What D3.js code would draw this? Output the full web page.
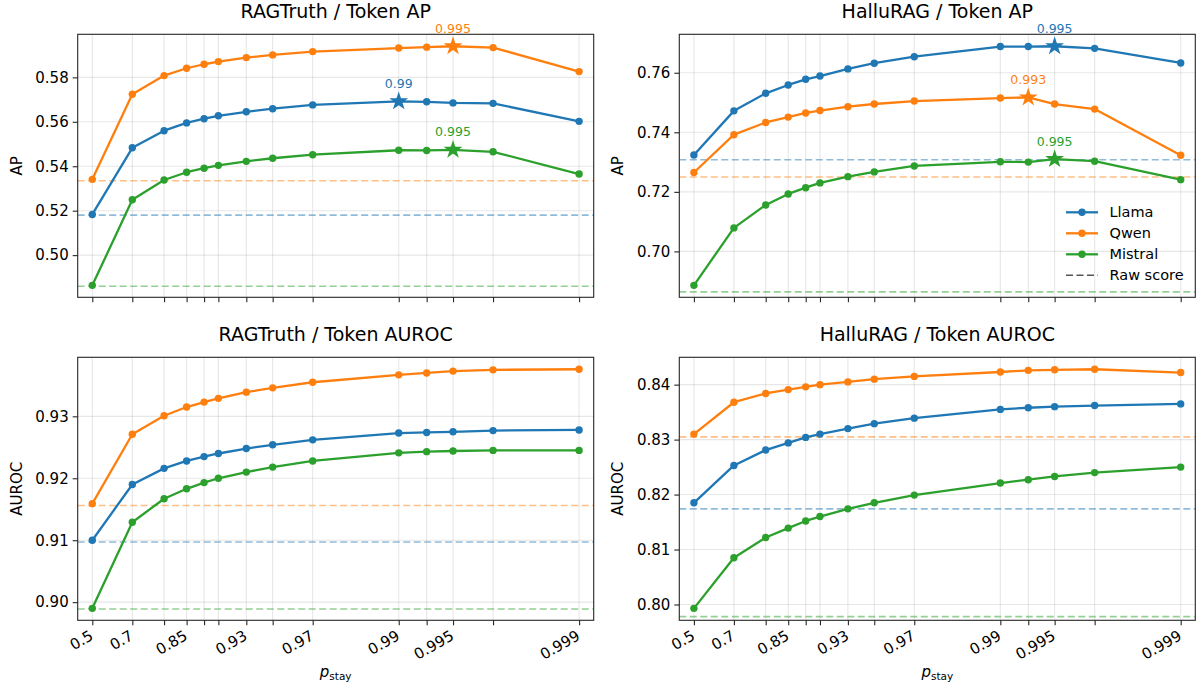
<!DOCTYPE html>
<html>
<head>
<meta charset="utf-8">
<script src="https://d3js.org/d3.v7.min.js"></script>
<style>
  body { margin: 0; background: #fff; }
  text { font-family: "DejaVu Sans", sans-serif; fill: #000; }
</style>
</head>
<body>
<div id="chart"></div>
<script>
// p_stay values (x positions) and the ones that get a label
var pStay = [0.5, 0.7, 0.8, 0.85, 0.88, 0.9, 0.93, 0.95, 0.97, 0.99, 0.993, 0.995, 0.997, 0.999];
var xTickLabels = ["0.5", "0.7", "0.85", "0.93", "0.97", "0.99", "0.995", "0.999"];

var models = ["Llama", "Qwen", "Mistral"];
var colors = ["#1f77b4", "#ff7f0e", "#2ca02c"];

// RAGTruth / Token AP
var ragApLlama   = [0.5183, 0.5483, 0.5560, 0.5595, 0.5614, 0.5627, 0.5645, 0.5659, 0.5676, 0.5692, 0.5690, 0.5685, 0.5683, 0.5602];
var ragApQwen    = [0.5341, 0.5724, 0.5808, 0.5841, 0.5859, 0.5871, 0.5889, 0.5901, 0.5916, 0.5932, 0.5936, 0.5940, 0.5934, 0.5826];
var ragApMistral = [0.4864, 0.5249, 0.5338, 0.5373, 0.5391, 0.5404, 0.5422, 0.5436, 0.5452, 0.5472, 0.5471, 0.5474, 0.5465, 0.5365];
var ragApRaw     = [0.5180, 0.5335, 0.4860];
var ragApTicks   = [0.50, 0.52, 0.54, 0.56, 0.58];

// HalluRAG / Token AP
var halApLlama   = [0.7324, 0.7472, 0.7531, 0.7559, 0.7578, 0.7589, 0.7613, 0.7632, 0.7654, 0.7688, 0.7688, 0.7689, 0.7682, 0.7633];
var halApQwen    = [0.7265, 0.7392, 0.7433, 0.7451, 0.7465, 0.7473, 0.7486, 0.7495, 0.7505, 0.7515, 0.7517, 0.7495, 0.7478, 0.7323];
var halApMistral = [0.6886, 0.7079, 0.7156, 0.7193, 0.7214, 0.7230, 0.7251, 0.7267, 0.7287, 0.7301, 0.7300, 0.7310, 0.7303, 0.7241];
var halApRaw     = [0.7308, 0.7250, 0.6864];
var halApTicks   = [0.70, 0.72, 0.74, 0.76];

// RAGTruth / Token AUROC
var ragAucLlama   = [0.9100, 0.9190, 0.9216, 0.9228, 0.9235, 0.9240, 0.9248, 0.9254, 0.9262, 0.9273, 0.9274, 0.9275, 0.9277, 0.9278];
var ragAucQwen    = [0.9159, 0.9271, 0.9301, 0.9315, 0.9323, 0.9329, 0.9339, 0.9346, 0.9355, 0.9367, 0.9370, 0.9373, 0.9375, 0.9376];
var ragAucMistral = [0.8990, 0.9129, 0.9167, 0.9183, 0.9193, 0.9200, 0.9210, 0.9218, 0.9228, 0.9241, 0.9243, 0.9244, 0.9245, 0.9245];
var ragAucRaw     = [0.9097, 0.9156, 0.8989];
var ragAucTicks   = [0.90, 0.91, 0.92, 0.93];

// HalluRAG / Token AUROC
var halAucLlama   = [0.8185, 0.8253, 0.8281, 0.8294, 0.8304, 0.8310, 0.8320, 0.8329, 0.8339, 0.8355, 0.8358, 0.8360, 0.8362, 0.8365];
var halAucQwen    = [0.8310, 0.8368, 0.8384, 0.8391, 0.8396, 0.8400, 0.8405, 0.8410, 0.8415, 0.8423, 0.8426, 0.8427, 0.8428, 0.8422];
var halAucMistral = [0.7993, 0.8085, 0.8122, 0.8139, 0.8152, 0.8160, 0.8174, 0.8185, 0.8199, 0.8221, 0.8227, 0.8233, 0.8240, 0.8250];
var halAucRaw     = [0.8174, 0.8305, 0.7978];
var halAucTicks   = [0.80, 0.81, 0.82, 0.83, 0.84];

var panels = [
  {title: "RAGTruth / Token AP", ylabel: "AP", col: 0, row: 0, star: true,
   series: [ragApLlama, ragApQwen, ragApMistral], raw: ragApRaw, ticks: ragApTicks},
  {title: "HalluRAG / Token AP", ylabel: "AP", col: 1, row: 0, star: true, legend: true,
   series: [halApLlama, halApQwen, halApMistral], raw: halApRaw, ticks: halApTicks},
  {title: "RAGTruth / Token AUROC", ylabel: "AUROC", col: 0, row: 1,
   series: [ragAucLlama, ragAucQwen, ragAucMistral], raw: ragAucRaw, ticks: ragAucTicks},
  {title: "HalluRAG / Token AUROC", ylabel: "AUROC", col: 1, row: 1,
   series: [halAucLlama, halAucQwen, halAucMistral], raw: halAucRaw, ticks: halAucTicks}
];

var width = 1198, height = 688;
var W = 516, H = 263;
var colX = [77.7, 679.3], rowY = [34.3, 357.3];

var svg = d3.select("#chart").append("svg")
  .attr("width", width).attr("height", height);

// x is -log10(1 - p)
function tp(p) { return -Math.log10(1 - p); }
var t0 = tp(pStay[0]), t1 = tp(pStay[pStay.length - 1]);
var xpad = 0.03 * (t1 - t0);

panels.forEach(function(pn) {
  var g = svg.append("g")
    .attr("transform", "translate(" + colX[pn.col] + "," + rowY[pn.row] + ")");

  var x = d3.scaleLinear().domain([t0 - xpad, t1 + xpad]).range([0, W]);
  var ext = d3.extent(pn.series.flat());
  var ypad = 0.05 * (ext[1] - ext[0]);
  var y = d3.scaleLinear().domain([ext[0] - ypad, ext[1] + ypad]).range([H, 0]);

  // grid
  g.selectAll(".vg").data(pStay).enter().append("line")
    .attr("x1", function(d) { return x(tp(d)); })
    .attr("x2", function(d) { return x(tp(d)); })
    .attr("y1", 0).attr("y2", H)
    .attr("stroke", "#b0b0b0").attr("stroke-opacity", 0.3).attr("stroke-width", 1.1);
  g.selectAll(".hg").data(pn.ticks).enter().append("line")
    .attr("x1", 0).attr("x2", W)
    .attr("y1", function(d) { return y(d); })
    .attr("y2", function(d) { return y(d); })
    .attr("stroke", "#b0b0b0").attr("stroke-opacity", 0.3).attr("stroke-width", 1.1);

  // raw score baselines
  pn.raw.forEach(function(v, i) {
    g.append("line")
      .attr("x1", 0).attr("x2", W)
      .attr("y1", y(v)).attr("y2", y(v))
      .attr("stroke", colors[i]).attr("stroke-opacity", 0.5)
      .attr("stroke-width", 1.6).attr("stroke-dasharray", "7,3.5");
  });

  // series lines and markers
  pn.series.forEach(function(vals, i) {
    var pts = vals.map(function(v, k) { return {p: pStay[k], v: v}; });
    g.append("path")
      .datum(pts)
      .attr("fill", "none")
      .attr("stroke", colors[i])
      .attr("stroke-width", 2.3)
      .attr("stroke-linejoin", "round")
      .attr("d", d3.line()
        .x(function(d) { return x(tp(d.p)); })
        .y(function(d) { return y(d.v); }));
    g.selectAll(".pt" + i).data(pts).enter().append("circle")
      .attr("cx", function(d) { return x(tp(d.p)); })
      .attr("cy", function(d) { return y(d.v); })
      .attr("r", 3.7)
      .attr("fill", colors[i]);
  });

  // stars at the best p_stay
  if (pn.star) {
    pn.series.forEach(function(vals, i) {
      var k = d3.maxIndex(vals);
      var sx = x(tp(pStay[k])), sy = y(vals[k]);
      g.append("path")
        .attr("d", d3.symbol().type(d3.symbolStar).size(110)())
        .attr("transform", "translate(" + sx + "," + sy + ")")
        .attr("fill", colors[i]);
      g.append("text")
        .attr("x", sx).attr("y", sy - 13.5)
        .attr("text-anchor", "middle")
        .style("font-size", "12.5px")
        .style("fill", colors[i])
        .text(String(pStay[k]));
    });
  }

  // frame
  g.append("rect")
    .attr("width", W).attr("height", H)
    .attr("fill", "none").attr("stroke", "#262626").attr("stroke-width", 1.1);

  // y axis
  var ya = g.append("g")
    .call(d3.axisLeft(y).tickValues(pn.ticks).tickSize(5).tickPadding(4)
      .tickFormat(d3.format(".2f")));
  ya.select(".domain").remove();
  ya.selectAll("line").attr("stroke", "#262626").attr("stroke-width", 1.1);
  ya.selectAll("text").style("font-size", "15px").style("font-family", "DejaVu Sans");

  // x axis
  var xa = g.append("g")
    .attr("transform", "translate(0," + H + ")")
    .call(d3.axisBottom(x).tickValues(pStay.map(tp)).tickSize(5)
      .tickFormat(function(d, k) {
        if (pn.row === 0) return "";
        var s = String(pStay[k]);
        return xTickLabels.indexOf(s) >= 0 ? s : "";
      }));
  xa.select(".domain").remove();
  xa.selectAll("line").attr("stroke", "#262626").attr("stroke-width", 1.1);
  xa.selectAll("text")
    .attr("x", null).attr("y", null).attr("dy", null)
    .attr("dominant-baseline", "central")
    .attr("text-anchor", "end")
    .attr("transform", "translate(-1,14) rotate(-30)")
    .style("font-size", "15px").style("font-family", "DejaVu Sans");

  // title
  svg.append("text")
    .attr("x", colX[pn.col] + W / 2)
    .attr("y", rowY[pn.row] - 16)
    .attr("text-anchor", "middle")
    .style("font-size", "19px")
    .text(pn.title);

  // y label
  svg.append("text")
    .attr("transform", "translate(" + (colX[pn.col] - 56) + "," + (rowY[pn.row] + H / 2) + ") rotate(-90)")
    .attr("text-anchor", "middle")
    .style("font-size", "15px")
    .text(pn.ylabel);

  // x label
  if (pn.row === 1) {
    var xl = svg.append("text")
      .attr("x", colX[pn.col] + W / 2)
      .attr("y", 677)
      .attr("text-anchor", "middle")
      .style("font-size", "15px");
    xl.append("tspan").style("font-style", "italic").text("p");
    xl.append("tspan").attr("dy", 3).style("font-size", "10.5px").text("stay");
  }

  // legend
  if (pn.legend) {
    var lg = g.append("g").attr("transform", "translate(386.7,178)");
    var items = models.concat(["Raw score"]);
    items.forEach(function(name, i) {
      var ly = i * 21;
      if (i < 3) {
        lg.append("line").attr("x1", 0).attr("x2", 32).attr("y1", ly).attr("y2", ly)
          .attr("stroke", colors[i]).attr("stroke-width", 2.3);
        lg.append("circle").attr("cx", 16).attr("cy", ly).attr("r", 3.7).attr("fill", colors[i]);
      } else {
        lg.append("line").attr("x1", 0).attr("x2", 32).attr("y1", ly).attr("y2", ly)
          .attr("stroke", "#555").attr("stroke-width", 1.6).attr("stroke-dasharray", "7,3.5");
      }
      lg.append("text").attr("x", 43.5).attr("y", ly)
        .attr("dominant-baseline", "central")
        .style("font-size", "14.5px")
        .text(name);
    });
  }
});
</script>
</body>
</html>
